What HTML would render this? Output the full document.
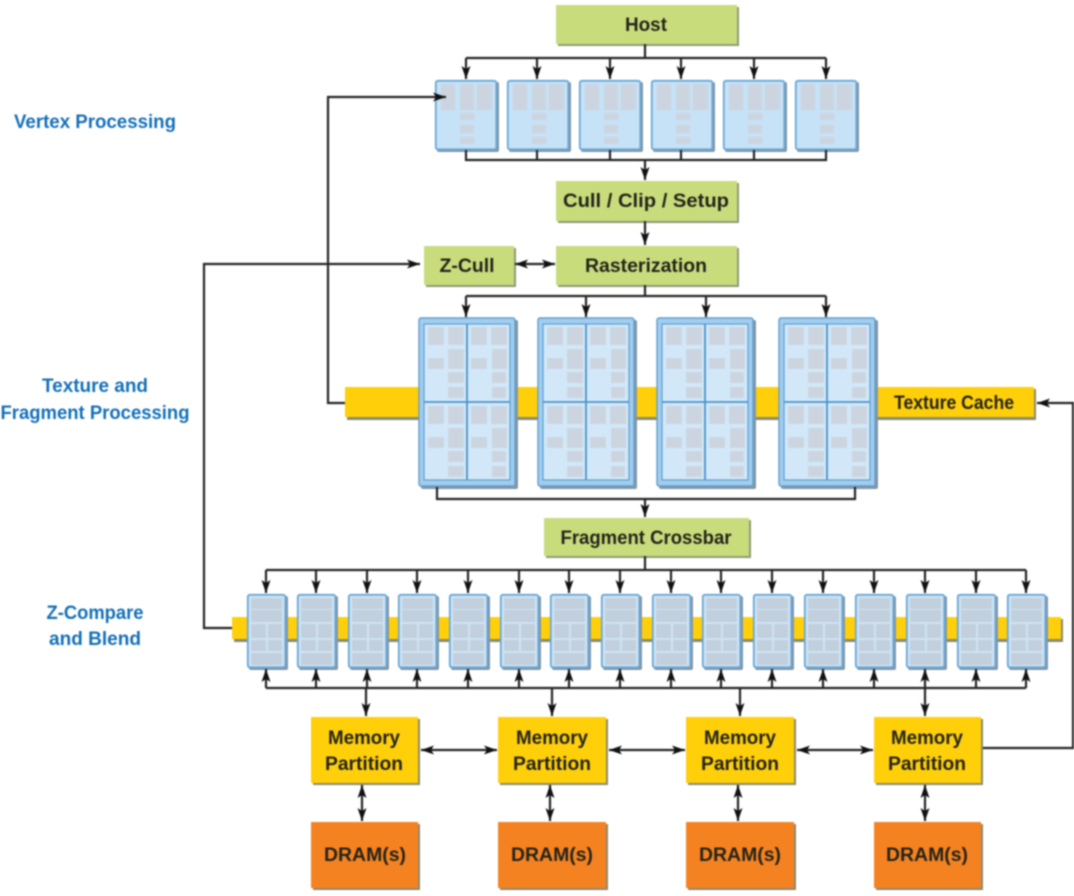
<!DOCTYPE html>
<html><head><meta charset="utf-8"><style>
html,body{margin:0;padding:0;background:#fff;width:1074px;height:896px;overflow:hidden}
svg{display:block;filter:blur(.8px)}
text{font-family:"Liberation Sans",sans-serif;font-weight:bold;font-size:19px;text-anchor:middle;fill:#24241a}
.b{fill:#1570b8}
.l{fill:none;stroke:#262626;stroke-width:2.2}
.g{fill:#ccd5df}
.z{fill:#c2d0dd}
</style></head><body>
<svg width="1074" height="896" viewBox="0 0 1074 896" xmlns="http://www.w3.org/2000/svg">
<defs>
<marker id="a" markerUnits="userSpaceOnUse" markerWidth="14" markerHeight="10" refX="13" refY="4.5" orient="auto-start-reverse"><path d="M0 0L13 4.5L0 9L3 4.5Z" fill="#111"/></marker>
<g id="vb">
<rect x="2" y="2" width="62" height="70" rx="2" fill="#8496a4"/>
<rect x="0.8" y="0.8" width="60.5" height="68.5" rx="2" fill="#c6e2f7" stroke="#6aa8d6" stroke-width="1.8"/>
<rect class="g" x="6" y="4" width="14" height="26"/><rect class="g" x="25" y="4" width="14" height="26"/><rect class="g" x="42" y="4" width="15" height="26"/>
<rect class="g" x="25" y="33" width="14" height="7"/><rect class="g" x="25" y="45" width="14" height="8"/><rect class="g" x="25" y="57" width="14" height="7"/>
</g>
<g id="fq" class="g">
<rect x="10" y="10" width="16" height="18"/><rect x="30" y="10" width="16" height="18"/><rect x="53" y="10" width="16" height="18"/><rect x="73" y="10" width="16" height="18"/>
<rect x="10" y="41" width="16" height="11"/><rect x="53" y="41" width="16" height="11"/>
<rect x="30" y="32" width="16" height="20"/><rect x="74" y="32" width="15" height="20"/>
<rect x="30" y="55" width="16" height="11"/><rect x="74" y="55" width="14" height="11"/>
<rect x="30" y="70" width="16" height="11"/><rect x="74" y="70" width="14" height="11"/>
</g>
<g id="fb">
<rect x="3" y="3" width="97" height="169" rx="2" fill="#8496a4"/>
<rect x="1" y="1" width="96" height="168" rx="2" fill="#a3cdee" stroke="#5f9fcf" stroke-width="1.4"/>
<rect x="6" y="7" width="86" height="156" fill="#d2e8f9" stroke="#5a9ed2" stroke-width="1.2"/>
<use href="#fq"/><use href="#fq" y="79"/>
<path d="M49 7V163M6 85H92" stroke="#4a94cb" stroke-width="1.8" fill="none"/>
</g>
<g id="zb">
<rect x="2" y="2" width="39" height="74" rx="2" fill="#8496a4"/>
<rect x="0.8" y="0.8" width="37.5" height="72.5" rx="2" fill="#cde3f5" stroke="#6aa8d6" stroke-width="1.8"/>
<g class="z"><rect x="4" y="4" width="31" height="11"/><rect x="4" y="16" width="31" height="12"/><rect x="4" y="30" width="15" height="14"/><rect x="21" y="30" width="14" height="14"/><rect x="4" y="46" width="15" height="11"/><rect x="21" y="46" width="14" height="11"/><rect x="4" y="59" width="31" height="12"/></g>
</g>
</defs>

<!-- yellow bars -->
<rect x="347" y="389" width="689" height="31" fill="#8a8a70"/>
<rect x="345" y="387" width="689" height="30" fill="#ffcf0a"/>
<rect x="234" y="619" width="829" height="23" fill="#8a8a70"/>
<rect x="232" y="617" width="829" height="22" fill="#ffcf0a"/>

<!-- green boxes -->
<g fill="#8f9a78">
<rect x="558" y="7" width="181" height="39"/><rect x="558" y="183" width="181" height="40"/><rect x="558" y="248" width="181" height="39"/><rect x="426" y="248" width="90" height="39"/><rect x="546" y="520" width="205" height="38"/>
</g>
<g fill="#c8dc7c">
<rect x="556" y="5" width="181" height="39"/><rect x="556" y="181" width="181" height="40"/><rect x="556" y="246" width="181" height="39"/><rect x="424" y="246" width="90" height="39"/><rect x="544" y="518" width="205" height="38"/>
</g>

<!-- vertex -->
<use href="#vb" x="435" y="80"/><use href="#vb" x="507" y="80"/><use href="#vb" x="579" y="80"/><use href="#vb" x="651" y="80"/><use href="#vb" x="723" y="80"/><use href="#vb" x="795" y="80"/>
<!-- fragment -->
<use href="#fb" x="418" y="317"/><use href="#fb" x="537" y="317"/><use href="#fb" x="656" y="317"/><use href="#fb" x="778" y="317"/>
<!-- z boxes -->
<use href="#zb" x="247" y="594"/><use href="#zb" x="297" y="594"/><use href="#zb" x="348" y="594"/><use href="#zb" x="398" y="594"/><use href="#zb" x="449" y="594"/><use href="#zb" x="500" y="594"/><use href="#zb" x="550" y="594"/><use href="#zb" x="601" y="594"/><use href="#zb" x="652" y="594"/><use href="#zb" x="702" y="594"/><use href="#zb" x="753" y="594"/><use href="#zb" x="804" y="594"/><use href="#zb" x="855" y="594"/><use href="#zb" x="906" y="594"/><use href="#zb" x="957" y="594"/><use href="#zb" x="1007" y="594"/>

<!-- memory / dram -->
<g fill="#8a8a70"><rect x="313" y="719" width="107" height="66"/><rect x="500" y="719" width="108" height="66"/><rect x="688" y="719" width="108" height="66"/><rect x="876" y="719" width="107" height="66"/>
<rect x="313" y="824" width="107" height="66"/><rect x="500" y="824" width="108" height="66"/><rect x="688" y="824" width="108" height="66"/><rect x="876" y="824" width="107" height="66"/></g>
<g fill="#ffcf0a"><rect x="311" y="717" width="107" height="66"/><rect x="498" y="717" width="108" height="66"/><rect x="686" y="717" width="108" height="66"/><rect x="874" y="717" width="107" height="66"/></g>
<g fill="#f58220"><rect x="311" y="822" width="107" height="66"/><rect x="498" y="822" width="108" height="66"/><rect x="686" y="822" width="108" height="66"/><rect x="874" y="822" width="107" height="66"/></g>

<!-- connectors -->
<g class="l">
<path d="M645 44V58M466 58H826"/>
<path marker-end="url(#a)" d="M466 58V79"/><path marker-end="url(#a)" d="M537 58V79"/><path marker-end="url(#a)" d="M610 58V79"/><path marker-end="url(#a)" d="M681 58V79"/><path marker-end="url(#a)" d="M754 58V79"/><path marker-end="url(#a)" d="M826 58V79"/>
<path d="M466 150V160H826V150M537 150V160M610 150V160M681 150V160M754 150V160"/>
<path marker-end="url(#a)" d="M645 160V180"/>
<path marker-end="url(#a)" d="M645 221V245"/>
<path marker-start="url(#a)" marker-end="url(#a)" d="M515 264H555"/>
<path d="M645 285V296M466 296H826"/>
<path marker-end="url(#a)" d="M466 296V317"/><path marker-end="url(#a)" d="M586 296V317"/><path marker-end="url(#a)" d="M706 296V317"/><path marker-end="url(#a)" d="M826 296V317"/>
<path marker-end="url(#a)" d="M345 403H328V97H446"/>
<path marker-end="url(#a)" d="M232 628H204V264H420"/>
<path d="M437 487V499H855V487"/>
<path marker-end="url(#a)" d="M645 499V517"/>
<path d="M645 556V570M266 570H1026"/>
<path marker-end="url(#a)" d="M266 570V593"/><path marker-end="url(#a)" d="M316 570V593"/><path marker-end="url(#a)" d="M367 570V593"/><path marker-end="url(#a)" d="M417 570V593"/><path marker-end="url(#a)" d="M468 570V593"/><path marker-end="url(#a)" d="M519 570V593"/><path marker-end="url(#a)" d="M569 570V593"/><path marker-end="url(#a)" d="M620 570V593"/><path marker-end="url(#a)" d="M671 570V593"/><path marker-end="url(#a)" d="M721 570V593"/><path marker-end="url(#a)" d="M772 570V593"/><path marker-end="url(#a)" d="M823 570V593"/><path marker-end="url(#a)" d="M874 570V593"/><path marker-end="url(#a)" d="M925 570V593"/><path marker-end="url(#a)" d="M976 570V593"/><path marker-end="url(#a)" d="M1026 570V593"/>
<path d="M266 688H1026"/>
<path marker-end="url(#a)" d="M266 688V669"/><path marker-end="url(#a)" d="M316 688V669"/><path marker-end="url(#a)" d="M367 688V669"/><path marker-end="url(#a)" d="M417 688V669"/><path marker-end="url(#a)" d="M468 688V669"/><path marker-end="url(#a)" d="M519 688V669"/><path marker-end="url(#a)" d="M569 688V669"/><path marker-end="url(#a)" d="M620 688V669"/><path marker-end="url(#a)" d="M671 688V669"/><path marker-end="url(#a)" d="M721 688V669"/><path marker-end="url(#a)" d="M772 688V669"/><path marker-end="url(#a)" d="M823 688V669"/><path marker-end="url(#a)" d="M874 688V669"/><path marker-end="url(#a)" d="M925 688V669"/><path marker-end="url(#a)" d="M976 688V669"/><path marker-end="url(#a)" d="M1026 688V669"/>
<path marker-end="url(#a)" d="M366 688V716"/><path marker-end="url(#a)" d="M552 688V716"/><path marker-end="url(#a)" d="M740 688V716"/><path marker-end="url(#a)" d="M925 688V716"/>
<path marker-start="url(#a)" marker-end="url(#a)" d="M421 750H497"/><path marker-start="url(#a)" marker-end="url(#a)" d="M609 750H685"/><path marker-start="url(#a)" marker-end="url(#a)" d="M797 750H873"/>
<path marker-start="url(#a)" marker-end="url(#a)" d="M362 785V821"/><path marker-start="url(#a)" marker-end="url(#a)" d="M550 785V821"/><path marker-start="url(#a)" marker-end="url(#a)" d="M738 785V821"/><path marker-start="url(#a)" marker-end="url(#a)" d="M925 785V821"/>
<path marker-end="url(#a)" d="M983 748H1073V403H1037"/>
</g>

<!-- labels -->
<text x="646" y="31" textLength="42" lengthAdjust="spacingAndGlyphs">Host</text>
<text x="646" y="207" textLength="166" lengthAdjust="spacingAndGlyphs">Cull / Clip / Setup</text>
<text x="646" y="272" textLength="122" lengthAdjust="spacingAndGlyphs">Rasterization</text>
<text x="467" y="272" textLength="55" lengthAdjust="spacingAndGlyphs">Z-Cull</text>
<text x="646" y="544" textLength="171" lengthAdjust="spacingAndGlyphs">Fragment Crossbar</text>
<text x="954" y="409" textLength="120" lengthAdjust="spacingAndGlyphs">Texture Cache</text>
<text x="364" y="744" textLength="72" lengthAdjust="spacingAndGlyphs">Memory</text><text x="364" y="770" textLength="78" lengthAdjust="spacingAndGlyphs">Partition</text>
<text x="552" y="744" textLength="72" lengthAdjust="spacingAndGlyphs">Memory</text><text x="552" y="770" textLength="78" lengthAdjust="spacingAndGlyphs">Partition</text>
<text x="740" y="744" textLength="72" lengthAdjust="spacingAndGlyphs">Memory</text><text x="740" y="770" textLength="78" lengthAdjust="spacingAndGlyphs">Partition</text>
<text x="927" y="744" textLength="72" lengthAdjust="spacingAndGlyphs">Memory</text><text x="927" y="770" textLength="78" lengthAdjust="spacingAndGlyphs">Partition</text>
<text x="365" y="861" textLength="82" lengthAdjust="spacingAndGlyphs">DRAM(s)</text>
<text x="552" y="861" textLength="82" lengthAdjust="spacingAndGlyphs">DRAM(s)</text>
<text x="740" y="861" textLength="82" lengthAdjust="spacingAndGlyphs">DRAM(s)</text>
<text x="927" y="861" textLength="82" lengthAdjust="spacingAndGlyphs">DRAM(s)</text>
<text class="b" x="95" y="128" textLength="162" lengthAdjust="spacingAndGlyphs">Vertex Processing</text>
<text class="b" x="95" y="392" textLength="106" lengthAdjust="spacingAndGlyphs">Texture and</text>
<text class="b" x="95" y="419" textLength="189" lengthAdjust="spacingAndGlyphs">Fragment Processing</text>
<text class="b" x="95" y="619" textLength="97" lengthAdjust="spacingAndGlyphs">Z-Compare</text>
<text class="b" x="95" y="645" textLength="92" lengthAdjust="spacingAndGlyphs">and Blend</text>
</svg>
</body></html>
